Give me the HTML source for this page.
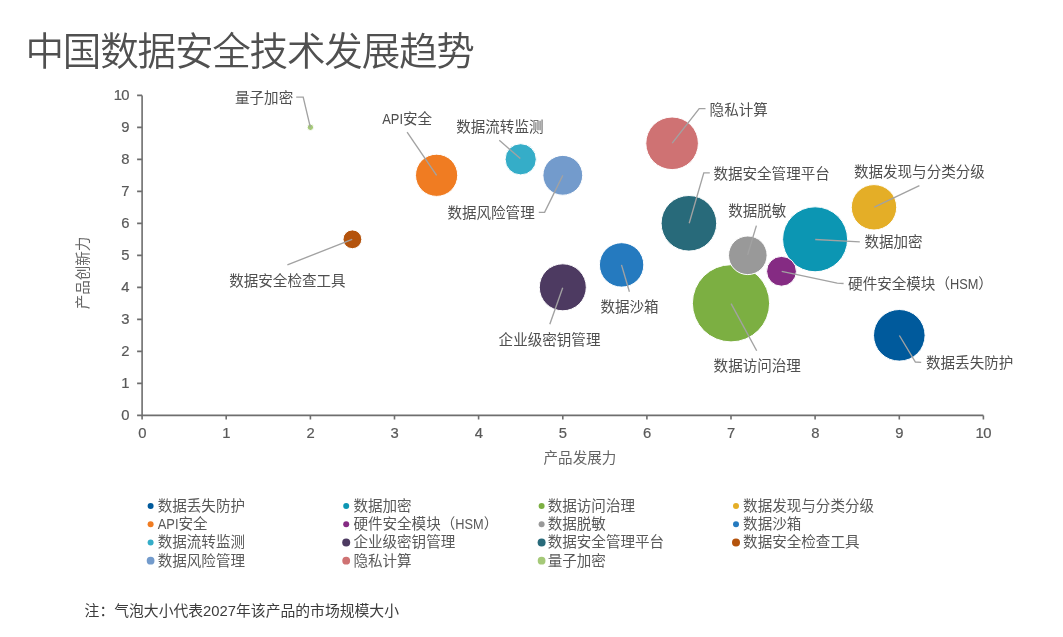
<!DOCTYPE html>
<html lang="zh-CN">
<head>
<meta charset="utf-8">
<title>中国数据安全技术发展趋势</title>
<style>
html,body{margin:0;padding:0;background:#fff;}
body{width:1063px;height:637px;position:relative;overflow:hidden;font-family:"Liberation Sans", "Noto Sans CJK SC", sans-serif;}
h1{position:absolute;left:25.5px;top:24.7px;margin:0;font-size:38.6px;line-height:54px;font-weight:350;color:#505050;white-space:nowrap;letter-spacing:-1.23px;}
svg{position:absolute;left:0;top:0;}
svg text{font-family:"Liberation Sans", "Noto Sans CJK SC", sans-serif;}
.tk{font-size:14.8px;fill:#595959;stroke:#595959;stroke-width:0.2px;letter-spacing:-0.5px;}
.lb{font-size:14.55px;fill:#4f4f4f;font-weight:400;}
.lg{font-size:14.55px;fill:#595959;font-weight:400;}
.ax{font-size:14.55px;fill:#666;font-weight:400;}
.ld{fill:none;stroke:#a2a2a2;stroke-width:1.35;}
.note{position:absolute;left:84.6px;top:601.2px;margin:0;font-size:14.82px;line-height:20px;color:#3c3c3c;white-space:nowrap;}
</style>
</head>
<body>
<h1>中国数据安全技术发展趋势</h1>
<svg width="1063" height="637" viewBox="0 0 1063 637">
<g stroke="#6e6e6e" stroke-width="1.6" fill="none">
<path d="M142.1 95.4V415.4H983.4"/>
<path d="M142.1 415.4h-5M142.1 415.4v4M142.1 383.4h-5M226.2 415.4v4M142.1 351.4h-5M310.4 415.4v4M142.1 319.4h-5M394.5 415.4v4M142.1 287.4h-5M478.6 415.4v4M142.1 255.4h-5M562.8 415.4v4M142.1 223.4h-5M646.9 415.4v4M142.1 191.4h-5M731.0 415.4v4M142.1 159.4h-5M815.1 415.4v4M142.1 127.4h-5M899.3 415.4v4M142.1 95.4h-5M983.4 415.4v4"/>
</g>
<g class="tk" text-anchor="end">
<text x="129.1" y="420.2">0</text>
<text x="129.1" y="388.2">1</text>
<text x="129.1" y="356.2">2</text>
<text x="129.1" y="324.2">3</text>
<text x="129.1" y="292.2">4</text>
<text x="129.1" y="260.2">5</text>
<text x="129.1" y="228.2">6</text>
<text x="129.1" y="196.2">7</text>
<text x="129.1" y="164.2">8</text>
<text x="129.1" y="132.2">9</text>
<text x="129.1" y="100.2">10</text>
</g>
<g class="tk" text-anchor="middle">
<text x="142.0" y="438.2">0</text>
<text x="226.1" y="438.2">1</text>
<text x="310.3" y="438.2">2</text>
<text x="394.4" y="438.2">3</text>
<text x="478.5" y="438.2">4</text>
<text x="562.6" y="438.2">5</text>
<text x="646.8" y="438.2">6</text>
<text x="730.9" y="438.2">7</text>
<text x="815.0" y="438.2">8</text>
<text x="899.2" y="438.2">9</text>
<text x="983.3" y="438.2">10</text>
</g>
<text class="ax" text-anchor="middle" x="579.9" y="463.4">产品发展力</text>
<text class="ax" text-anchor="middle" transform="translate(87.9 273) rotate(-90)" x="0" y="0">产品创新力</text>
<g stroke="#fff" stroke-width="1">
<circle cx="899.3" cy="335.3" r="25.8" fill="#005A9C"/>
<circle cx="815.1" cy="239.3" r="32.5" fill="#0C96B3"/>
<circle cx="731.0" cy="303.3" r="38.6" fill="#7CAF42"/>
<circle cx="874.0" cy="207.3" r="22.7" fill="#E4AE27"/>
<circle cx="436.6" cy="175.3" r="21.1" fill="#F07C22"/>
<circle cx="781.5" cy="271.3" r="14.9" fill="#852B83"/>
<circle cx="747.8" cy="255.3" r="19.3" fill="#999999"/>
<circle cx="621.6" cy="264.9" r="22.2" fill="#257ABF"/>
<circle cx="520.7" cy="159.3" r="15.6" fill="#35ADC8"/>
<circle cx="562.8" cy="287.3" r="23.5" fill="#4D3A61"/>
<circle cx="688.9" cy="223.3" r="27.8" fill="#286A7A"/>
<circle cx="352.4" cy="239.3" r="9.4" fill="#B4530C"/>
<circle cx="562.8" cy="175.3" r="19.9" fill="#739BCC"/>
<circle cx="672.1" cy="143.3" r="26.3" fill="#CF7273"/>
<circle cx="310.4" cy="127.3" r="3.2" fill="#A5C978"/>
</g>
<g class="ld">
<polyline points="899.4,335.5 915.4,362.0 921.2,362.3"/>
<polyline points="815.2,239.5 859.8,241.8"/>
<polyline points="731.1,303.6 756.7,350.7"/>
<polyline points="874.3,207.2 919.4,185.7"/>
<polyline points="436.6,175.4 407.1,132.2"/>
<polyline points="781.7,271.3 837.2,283.2 843.6,283.5"/>
<polyline points="747.6,254.9 756.4,225.6"/>
<polyline points="621.5,264.9 629.4,291.7"/>
<polyline points="520.3,158.5 499.3,140.3"/>
<polyline points="562.7,287.8 549.8,324.3"/>
<polyline points="689.2,223.2 703.8,172.9 709.8,172.9"/>
<polyline points="352.2,239.3 287.4,264.9"/>
<polyline points="562.8,175.4 544.6,212.4 538.8,212.4"/>
<polyline points="672.2,143.1 699.2,108.6 705.5,108.6"/>
<polyline points="310.3,127.2 303.2,97.1 296.2,97.1"/>
</g>
<g class="lb">
<text x="926.0" y="367.8">数据丢失防护</text>
<text x="864.4" y="246.9">数据加密</text>
<text x="713.6" y="371.1">数据访问治理</text>
<text x="853.9" y="176.8">数据发现与分类分级</text>
<text x="382.2" y="124.2"><tspan textLength="20.8" lengthAdjust="spacingAndGlyphs">API</tspan>安全</text>
<text x="848.1" y="288.9">硬件安全模块（<tspan textLength="28.4" lengthAdjust="spacingAndGlyphs">HSM</tspan>）</text>
<text x="728.2" y="216.3">数据脱敏</text>
<text x="600.4" y="312.1">数据沙箱</text>
<text x="456.2" y="131.8">数据流转监测</text>
<text x="498.6" y="345.2">企业级密钥管理</text>
<text x="713.4" y="178.8">数据安全管理平台</text>
<text x="229.2" y="285.8">数据安全检查工具</text>
<text x="447.4" y="218.2">数据风险管理</text>
<text x="709.6" y="114.8">隐私计算</text>
<text x="235.0" y="103.4">量子加密</text>
</g>
<g>
<circle cx="150.6" cy="505.9" r="3.0" fill="#005A9C"/>
<circle cx="346.2" cy="505.9" r="3.0" fill="#0C96B3"/>
<circle cx="541.6" cy="505.9" r="3.0" fill="#7CAF42"/>
<circle cx="736.0" cy="505.9" r="3.0" fill="#E4AE27"/>
<circle cx="150.6" cy="524.2" r="3.0" fill="#F07C22"/>
<circle cx="346.2" cy="524.2" r="3.0" fill="#852B83"/>
<circle cx="541.6" cy="524.2" r="3.0" fill="#999999"/>
<circle cx="736.0" cy="524.2" r="3.0" fill="#257ABF"/>
<circle cx="150.6" cy="542.4" r="3.0" fill="#35ADC8"/>
<circle cx="346.2" cy="542.4" r="4.0" fill="#4D3A61"/>
<circle cx="541.6" cy="542.4" r="4.0" fill="#286A7A"/>
<circle cx="736.0" cy="542.4" r="4.0" fill="#B4530C"/>
<circle cx="150.6" cy="560.7" r="3.9" fill="#739BCC"/>
<circle cx="346.2" cy="560.7" r="3.9" fill="#CF7273"/>
<circle cx="541.6" cy="560.7" r="3.9" fill="#A5C978"/>
</g>
<g class="lg">
<text x="157.7" y="510.9">数据丢失防护</text>
<text x="353.4" y="510.9">数据加密</text>
<text x="547.7" y="510.9">数据访问治理</text>
<text x="743.1" y="510.9">数据发现与分类分级</text>
<text x="157.7" y="529.2"><tspan textLength="20.8" lengthAdjust="spacingAndGlyphs">API</tspan>安全</text>
<text x="353.4" y="529.2">硬件安全模块（<tspan textLength="28.4" lengthAdjust="spacingAndGlyphs">HSM</tspan>）</text>
<text x="547.7" y="529.2">数据脱敏</text>
<text x="743.1" y="529.2">数据沙箱</text>
<text x="157.7" y="547.4">数据流转监测</text>
<text x="353.4" y="547.4">企业级密钥管理</text>
<text x="547.7" y="547.4">数据安全管理平台</text>
<text x="743.1" y="547.4">数据安全检查工具</text>
<text x="157.7" y="565.7">数据风险管理</text>
<text x="353.4" y="565.7">隐私计算</text>
<text x="547.7" y="565.7">量子加密</text>
</g>
</svg>
<p class="note">注：气泡大小代表2027年该产品的市场规模大小</p>
</body>
</html>
